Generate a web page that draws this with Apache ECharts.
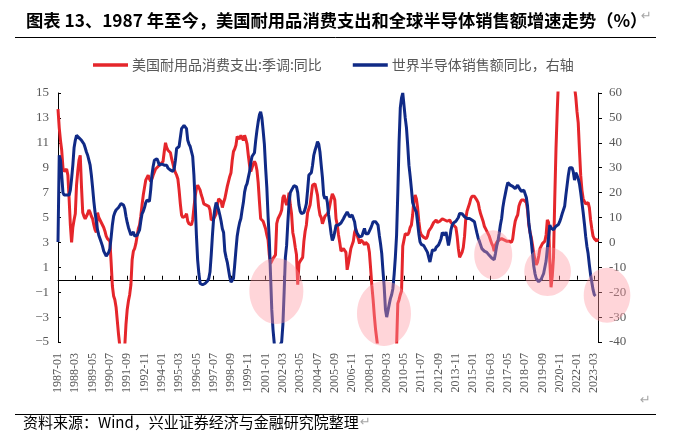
<!DOCTYPE html>
<html>
<head>
<meta charset="utf-8">
<script src="https://cdn.jsdelivr.net/npm/echarts@6/dist/echarts.min.js"></script>
<style>
html,body{margin:0;padding:0;background:#fff;}
#chart{width:673px;height:440px;}
</style>
</head>
<body>
<div id="chart"></div>
<script>
// ---- data ----
const startYear = 1987;
const monthCount = 438; // 1987-01 .. 2023-06
const months = [];
for (let k = 0; k < monthCount; k++) {
  const y = startYear + Math.floor(k / 12), m = (k % 12) + 1;
  months.push(y + '-' + (m < 10 ? '0' + m : '' + m));
}

const seriesNames = ['美国耐用品消费支出:季调:同比', '世界半导体销售额同比，右轴'];

// 美国耐用品消费支出:季调:同比 (left axis, %)
const durableGoods = [
13.7,12.2,11.2,10.4,9.0,8.7,8.8,8.9,8.4,6.5,4.4,3.0,
4.2,4.8,5.3,7.6,8.7,9.6,10.0,7.5,5.4,5.1,4.9,5.0,
5.3,5.6,5.4,5.1,4.9,4.4,4.0,3.8,5.4,5.0,4.9,4.6,
4.4,4.2,3.9,3.5,3.3,3.2,3.1,1.4,-0.5,-1.3,-1.6,-2.2,
-3.3,-4.4,-5.3,-6.0,-6.5,-6.2,-5.4,-3.6,-2.4,-1.7,-1.2,-0.4,
1.6,2.3,2.5,2.9,3.5,4.1,4.4,5.1,6.0,6.8,7.4,8.0,
8.2,8.4,8.1,7.9,8.1,8.4,8.5,8.9,9.0,9.1,9.2,9.3,
9.4,9.5,10.3,11.0,10.6,10.4,10.5,10.2,9.7,9.3,8.9,8.6,
8.4,8.1,7.2,6.1,5.2,5.0,4.9,5.1,5.3,4.7,4.5,4.4,
4.4,4.8,5.8,6.7,7.3,7.6,7.4,7.2,6.8,6.5,6.1,6.0,
6.0,6.1,5.9,5.6,4.8,4.8,4.9,4.9,5.3,6.0,6.5,6.6,
6.3,5.8,6.2,6.5,7.0,7.5,7.9,8.3,8.6,9.6,10.3,10.5,
10.8,11.5,11.5,11.3,11.6,11.4,11.2,11.6,11.3,10.9,10.0,9.2,
8.7,8.8,9.3,9.5,9.3,8.8,7.8,6.3,4.9,4.8,4.7,4.6,
4.1,3.6,3.2,2.0,1.3,1.3,1.7,1.8,2.0,4.5,4.9,5.0,
5.3,5.6,6.6,6.8,6.3,6.0,6.3,7.0,6.0,5.3,3.8,3.3,
2.6,2.0,-0.4,1.3,1.5,1.6,1.8,3.1,3.9,4.4,5.4,5.7,
6.0,6.8,7.6,7.7,7.7,7.6,6.8,5.8,5.2,5.0,4.5,4.8,
5.1,5.2,5.3,5.5,6.0,6.5,6.9,6.7,6.4,4.9,4.4,3.6,
3.0,2.3,2.4,2.5,2.6,2.2,0.8,1.3,1.9,2.5,2.8,3.1,
3.8,4.1,3.6,3.3,2.9,3.2,3.1,3.0,2.8,3.0,2.9,2.8,
2.2,0.9,-0.5,-1.6,-2.9,-4.0,-4.8,-5.6,-7.0,-8.5,-9.5,-10.5,
-11.0,-11.0,-10.5,-10.0,-9.5,-9.0,-8.5,-8.0,-7.0,-6.0,-5.3,-1.9,
-1.6,-1.2,-0.9,2.7,3.2,3.7,3.8,3.6,3.8,4.2,4.4,5.2,
6.4,6.8,6.5,5.8,4.7,3.9,3.6,3.5,3.4,3.4,3.3,3.5,
3.9,4.0,4.2,4.4,4.6,4.7,4.8,4.6,4.6,4.7,4.8,4.9,
4.8,4.8,4.9,4.7,4.7,4.8,4.6,4.5,4.4,4.4,4.2,3.5,
2.5,1.8,1.9,2.2,2.6,3.5,4.9,5.5,5.8,6.1,6.5,6.7,
6.7,6.7,6.6,6.4,6.2,5.7,5.3,5.0,4.7,4.3,4.1,3.9,
3.8,3.5,3.2,2.9,2.7,2.3,2.8,3.0,3.1,3.2,3.3,3.3,
3.2,3.2,3.2,3.1,3.2,3.1,3.1,3.0,3.3,4.1,4.7,5.0,
5.2,5.9,6.2,6.4,6.5,6.4,6.3,6.2,5.6,4.4,3.8,3.4,
2.8,2.1,1.6,1.2,1.4,1.9,2.5,2.6,2.9,3.0,3.1,3.6,
4.8,4.6,1.5,-0.6,0.3,1.8,6.5,10.5,13.5,16.0,17.0,17.0,
18.0,22.0,35.0,48.0,40.0,30.0,25.0,22.0,20.0,18.0,15.5,14.7,
13.5,12.6,10.4,8.4,7.2,6.5,6.3,6.1,6.2,6.2,5.8,4.8,
4.1,3.5,3.3,3.2,3.1,3.3
];

// 世界半导体销售额同比 (right axis, %)
const semiSales = [
0.2,35,33,27,20,19,19,19,19,19,21,25.6,
31,38,41,43,43,42,41.5,41,40.3,39.5,38,36.3,
35,33,31,27,22,16.5,12,8.5,5,2.9,1.5,0,
-1.5,-3.5,-4.5,-5.5,-5.3,-4,-2.5,2,7,10.5,12,13,
13.6,14,14.5,15.6,15.6,15,13.6,10.5,8,6,4.5,3,
3.5,4.2,2.5,2.8,2.8,3.2,5,8.5,11.5,12.5,14,16,
17,17.6,16.5,21,27,30.5,33,33.3,33.6,32.5,31,31.5,
31.5,32.3,31,30.3,31,29.8,29.6,29,28.3,28.5,29.5,33,
37.7,38,38.5,39,45.7,46.5,47,47,45.7,41,39.5,38.5,
38.5,34.5,27,16,3,-7,-12.5,-16.5,-17.2,-17,-16.2,-16.5,
-16.3,-15.5,-14.5,-11.9,-5,3,10,13.6,16,15.5,13,10.9,
8.5,5.5,4,-3.5,-6,-8,-11,-14,-16,-16.4,-14.5,-9,
-3,2.5,5.6,8,9.6,13,16,20.2,22.5,23.6,26,28.3,
32,34.5,35,36,41,45,48.4,51.2,52.4,50,45,39.5,
30,22,10.5,1,-13,-27,-35,-40.5,-44,-46,-45,-42,
-41,-40,-33,-20,-6,-1.2,8,16,20,21,21.6,22.8,
22.9,22.3,20,15,12.5,11.6,11.6,12,13.5,15.6,21,27,
27.2,28,31,35,37,38.5,40.5,39.5,36.3,31,26,19,
17.5,18.5,16,11,7.5,3.5,0.8,2,4.2,6.9,7.6,7,
7.3,7.8,8.3,9.5,10.5,11.2,12.2,11.3,10.2,9.8,11,10.5,
8.3,5,3.8,3.3,2.2,1.5,2.5,4.2,5.6,3.5,2.9,3.5,
4.2,5.6,6.9,8.3,8.3,8.3,7.6,6.9,2.9,-0.5,-4.5,-11.5,
-18,-27,-30,-30.3,-25,-22.6,-21,-18.6,-13,-6,2.9,20,
40,54,58,60,55,50,46,39,31,26.5,21.5,16,
14.5,13.2,12.2,8,3.5,0.2,-0.8,-1.2,-1.3,-2.2,-2.5,-4,
-6,-7.9,-8.5,-3,-3,-3.2,-2,-2.3,-1,0.2,1.5,4,
3.5,2.9,4.2,1.5,-1.2,1.5,5,6.9,7.8,8.3,8.5,9,
10,11.6,12.2,11.5,11,10.3,9.8,9.6,9.6,9.6,9.2,9,
9,8.3,6,3.8,1.8,0.5,-1,-2.5,-3,-3.5,-3.9,-4,
-4.5,-5.2,-5.8,-6.3,-6.8,-7,-4.5,-1.5,0.5,3.5,7,9.6,
14,17,19.5,22,24,24.3,23,23,22.5,22,21.6,22.3,
23,22,21.6,20.5,21,21,20.2,18,14.5,8,4,0.5,
-4.5,-9.5,-12.5,-14.5,-15.3,-15.8,-16,-14.8,-14,-12.5,-11.9,-7.5,
-2.5,2,6.9,5.8,5,5.1,5.6,6.5,6.9,7.2,8.3,9.8,
11.5,13,14.5,19,23,27,30,30.8,30,28.3,25,28,
27,25.6,23.5,20,16,12,7.5,2.5,-1.5,-4.5,-9,-13,
-16,-19,-21,-21.5
];

// tick labels
const leftTicks = [-5, -3, -1, 1, 3, 5, 7, 9, 11, 13, 15];
const rightMin = -40, rightMax = 60, rightStep = 10;
const labelEvery = 14; // one x label every 14 months

// highlighted periods: [month index, left-axis value, rx px, ry px]
const highlights = [
  [176.7, -0.9, 27, 33],
  [263.8, -2.72, 27, 32.5],
  [352.2, 2.0, 19, 24.5],
  [396.2, 0.66, 23.3, 24.5],
  [444.3, -1.25, 23.3, 27.5]
];

const RED = '#E5262B';
const BLUE = '#102A86';
const labelColor = '#595959';

const chart = echarts.init(document.getElementById('chart'), null, {renderer: 'canvas'});

const option = {
  animation: false,
  backgroundColor: '#fff',
  title: {
    text: '图表 13、1987 年至今，美国耐用品消费支出和全球半导体销售额增速走势（%）',
    left: 21, top: 7,
    textStyle: {fontFamily: '"Noto Sans CJK SC"', fontWeight: 'bold', fontSize: 17.3, color: '#000'}
  },
  legend: {
    data: seriesNames,
    left: 88, top: 53,
    icon: 'rect', itemWidth: 35, itemHeight: 3.5, itemGap: 31,
    textStyle: {fontFamily: '"Noto Sans CJK SC"', fontSize: 14, color: labelColor, padding: [0, 0, 0, -1]}
  },
  grid: {left: 58, right: 75, top: 93, bottom: 98},
  xAxis: [
    {
      type: 'category', data: months, boundaryGap: false, position: 'bottom',
      axisLine: {show: false, onZero: false},
      axisTick: {show: false},
      axisLabel: {
        interval: labelEvery - 1, rotate: 90, margin: 11,
        color: labelColor, fontFamily: '"Liberation Serif"', fontSize: 12
      },
      splitLine: {show: false}
    },
    {
      type: 'category', data: months, boundaryGap: false, position: 'bottom',
      axisLine: {show: true, onZero: true, onZeroAxisIndex: 0, lineStyle: {color: '#000', width: 1}},
      axisTick: {show: true, inside: true, interval: labelEvery - 1, length: 4, lineStyle: {color: '#000'}},
      axisLabel: {show: false},
      splitLine: {show: false}
    }
  ],
  yAxis: [
    {
      type: 'value', min: -5, max: 15, position: 'left',
      axisLine: {show: true, onZero: false, lineStyle: {color: '#000'}},
      axisTick: {show: true, inside: true, length: 3, customValues: leftTicks, lineStyle: {color: '#000'}},
      axisLabel: {
        customValues: leftTicks, margin: 9,
        color: labelColor, fontFamily: '"Liberation Serif"', fontSize: 13,
        formatter: v => (v < 0 ? '\u2212' + Math.abs(v) : '' + v)
      },
      splitLine: {show: false}
    },
    {
      type: 'value', min: rightMin, max: rightMax, interval: rightStep, position: 'right',
      axisLine: {show: true, onZero: false, lineStyle: {color: '#000'}},
      axisTick: {show: true, inside: false, length: 4, lineStyle: {color: '#000'}},
      axisLabel: {margin: 11, color: labelColor, fontFamily: '"Liberation Serif"', fontSize: 13},
      splitLine: {show: false}
    }
  ],
  series: [
    {
      name: seriesNames[0], type: 'line', xAxisIndex: 0, yAxisIndex: 0,
      data: durableGoods, symbol: 'none', showSymbol: false, clip: true,
      lineStyle: {color: RED, width: 3}, itemStyle: {color: RED}, z: 2
    },
    {
      name: seriesNames[1], type: 'line', xAxisIndex: 0, yAxisIndex: 1,
      data: semiSales, symbol: 'none', showSymbol: false, clip: true,
      lineStyle: {color: BLUE, width: 3}, itemStyle: {color: BLUE}, z: 3
    }
  ],
  graphic: [
    {id: 'titleRule', type: 'line', shape: {x1: 15, y1: 37.5, x2: 656, y2: 37.5}, style: {stroke: '#000', lineWidth: 1}},
    {id: 'titleMark', type: 'text', left: 641, top: 10, style: {text: '\u21B5', fill: '#a6a6a6', font: '13px "DejaVu Sans"'}},
    {id: 'axisMark', type: 'text', left: 640, top: 394, style: {text: '\u21B5', fill: '#a6a6a6', font: '13px "DejaVu Sans"'}},
    {id: 'footRule', type: 'line', shape: {x1: 15, y1: 414.5, x2: 656, y2: 414.5}, style: {stroke: '#000', lineWidth: 1}},
    {id: 'footText', type: 'text', left: 23, top: 415,
     style: {text: '资料来源：Wind，兴业证券经济与金融研究院整理', fill: '#000', font: '15px "Noto Sans CJK SC"'}},
    {id: 'footMark', type: 'text', left: 360, top: 416, style: {text: '\u21B5', fill: '#a6a6a6', font: '13px "DejaVu Sans"'}}
  ]
};

chart.setOption(option);

// place highlight ellipses using the chart's own scales
const p0 = chart.convertToPixel({xAxisIndex: 0, yAxisIndex: 0}, [0, 0]);
const pN = chart.convertToPixel({xAxisIndex: 0, yAxisIndex: 0}, [monthCount - 1, 0]);
const pxPerMonth = (pN[0] - p0[0]) / (monthCount - 1);
const ellipses = highlights.map((h, k) => {
  const cy = chart.convertToPixel({yAxisIndex: 0}, h[1]);
  return {
    id: 'hl' + k, type: 'ellipse', z: 100,
    shape: {cx: p0[0] + h[0] * pxPerMonth, cy: cy, rx: h[2], ry: h[3]},
    style: {fill: 'rgba(255,150,160,0.40)'}
  };
});
chart.setOption({graphic: ellipses});
</script>
</body>
</html>
